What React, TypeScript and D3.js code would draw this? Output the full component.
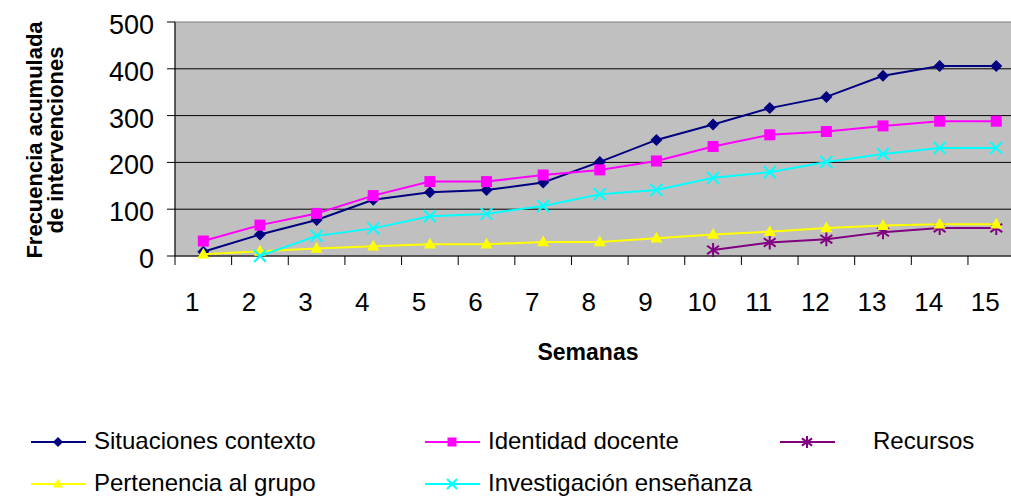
import React from "react";
import * as d3 from "d3";

const weeks = ["1", "2", "3", "4", "5", "6", "7", "8", "9", "10", "11", "12", "13", "14", "15"];
const situaciones = [9, 46, 77, 120, 136, 141, 157, 201, 248, 281, 316, 340, 385, 406, 406];
const identidad = [32, 66, 91, 129, 159, 159, 173, 184, 203, 234, 259, 266, 278, 288, 288];
const investigacion = [null, 0, 43, 59, 85, 90, 107, 132, 141, 167, 179, 201, 218, 231, 231];
const pertenencia = [4, 10, 16, 21, 25, 25, 30, 30, 38, 46, 52, 60, 65, 68, 68];
const recursos = [null, null, null, null, null, null, null, null, null, 13, 29, 36, 51, 60, 60];
const yTicks = [0, 100, 200, 300, 400, 500];

const FONT = "'Liberation Sans', Arial, sans-serif";

type Series = { name: string; values: (number | null)[]; color: string; marker: string };

const series: Series[] = [
  { name: "Situaciones contexto", values: situaciones, color: "#000080", marker: "diamond" },
  { name: "Identidad docente", values: identidad, color: "#FF00FF", marker: "square" },
  { name: "Recursos", values: recursos, color: "#800080", marker: "star" },
  { name: "Pertenencia al grupo", values: pertenencia, color: "#FFFF00", marker: "triangle" },
  { name: "Investigación enseñanza", values: investigacion, color: "#00FFFF", marker: "cross" },
];

// draws a marker centered on 0,0
function Marker({ kind, color, r }: { kind: string; color: string; r: number }) {
  if (kind === "diamond") {
    return <path d={`M0,${-r}L${r},0L0,${r}L${-r},0Z`} fill={color} />;
  }
  if (kind === "square") {
    return <rect x={-r + 0.5} y={-r + 0.5} width={2 * r - 1} height={2 * r - 1} fill={color} />;
  }
  if (kind === "triangle") {
    const h = r * 1.8;
    return <path d={`M0,${-h * 0.6}L${r},${h * 0.4}L${-r},${h * 0.4}Z`} fill={color} />;
  }
  if (kind === "cross") {
    return (
      <path d={`M${-r},${-r}L${r},${r}M${-r},${r}L${r},${-r}`} stroke={color} strokeWidth={2} fill="none" />
    );
  }
  // star: X plus vertical bar
  const k = r * 0.85;
  return (
    <path
      d={`M${-k},${-k * 0.7}L${k},${k * 0.7}M${-k},${k * 0.7}L${k},${-k * 0.7}M0,${-r}L0,${r}`}
      stroke={color}
      strokeWidth={2}
      fill="none"
    />
  );
}

export default function App() {
  const width = 1011;
  const height = 497;
  const left = 175;
  const step = 56.64;
  const top = 22;
  const bottom = 256;

  const x = d3
    .scaleBand<string>()
    .domain(weeks)
    .range([left, left + step * weeks.length])
    .padding(0);
  const cx = (w: string) => (x(w) as number) + x.bandwidth() / 2;
  const y = d3.scaleLinear().domain([0, 500]).range([bottom, top]);

  const line = d3
    .line<number | null>()
    .defined((d) => d !== null)
    .x((_, i) => cx(weeks[i]))
    .y((d) => y(d as number));

  const plotRight = left + step * weeks.length;

  const legendPos = [
    { lx: 31, tx: 94, ly: 442 },
    { lx: 425, tx: 488, ly: 442 },
    { lx: 780, tx: 873, ly: 442 },
    { lx: 31, tx: 94, ly: 484 },
    { lx: 425, tx: 488, ly: 484 },
  ];

  return (
    <svg
      width={width}
      height={height}
      style={{ position: "absolute", left: 0, top: 0, background: "#fff" }}
      fontFamily={FONT}
    >
      {/* plot area */}
      <rect x={left} y={top} width={plotRight - left} height={bottom - top} fill="#C0C0C0" stroke="#808080" strokeWidth={1} />
      {yTicks
        .filter((t) => t > 0 && t < 500)
        .map((t) => (
          <line key={t} x1={left} x2={plotRight} y1={y(t)} y2={y(t)} stroke="#000" strokeWidth={1} />
        ))}
      {/* axes */}
      <line x1={left} x2={left} y1={top} y2={bottom} stroke="#000" strokeWidth={1} />
      <line x1={left} x2={plotRight} y1={bottom} y2={bottom} stroke="#000" strokeWidth={1.2} />
      {yTicks.map((t) => (
        <g key={t}>
          <line x1={left - 8} x2={left} y1={y(t)} y2={y(t)} stroke="#000" />
          <text x={154} y={y(t) + 12} textAnchor="end" fontSize={27} fill="#000">
            {t}
          </text>
        </g>
      ))}
      {weeks.map((w, i) => (
        <g key={w}>
          <line x1={left + i * step} x2={left + i * step} y1={bottom} y2={bottom + 9} stroke="#000" />
          <text x={cx(w) - 11} y={311} textAnchor="middle" fontSize={26} fill="#000">
            {w}
          </text>
        </g>
      ))}
      <line x1={plotRight} x2={plotRight} y1={bottom} y2={bottom + 9} stroke="#000" />

      {/* series */}
      {series.map((s) => (
        <g key={s.name}>
          <path d={line(s.values) || ""} fill="none" stroke={s.color} strokeWidth={2} />
          {s.values.map((v, i) =>
            v === null ? null : (
              <g key={i} transform={`translate(${cx(weeks[i])},${y(v)})`}>
                <Marker kind={s.marker} color={s.color} r={s.marker === "star" ? 7 : 6} />
              </g>
            )
          )}
        </g>
      ))}

      {/* axis titles */}
      <text x={588} y={360} textAnchor="middle" fontSize={23} fontWeight="bold" fill="#000">
        Semanas
      </text>
      <text transform="translate(42,140) rotate(-90)" textAnchor="middle" fontSize={22} fontWeight="bold" fill="#000">
        Frecuencia acumulada
      </text>
      <text transform="translate(63,140) rotate(-90)" textAnchor="middle" fontSize={22} fontWeight="bold" fill="#000">
        de intervenciones
      </text>

      {/* legend */}
      {series.map((s, i) => {
        const p = legendPos[i];
        return (
          <g key={s.name}>
            <line x1={p.lx} x2={p.lx + 55} y1={p.ly} y2={p.ly} stroke={s.color} strokeWidth={2} />
            <g transform={`translate(${p.lx + 27},${p.ly})`}>
              <Marker kind={s.marker} color={s.color} r={s.marker === "star" ? 6 : 5} />
            </g>
            <text x={p.tx} y={p.ly + 7} fontSize={24} fill="#000">
              {s.name}
            </text>
          </g>
        );
      })}
    </svg>
  );
}
